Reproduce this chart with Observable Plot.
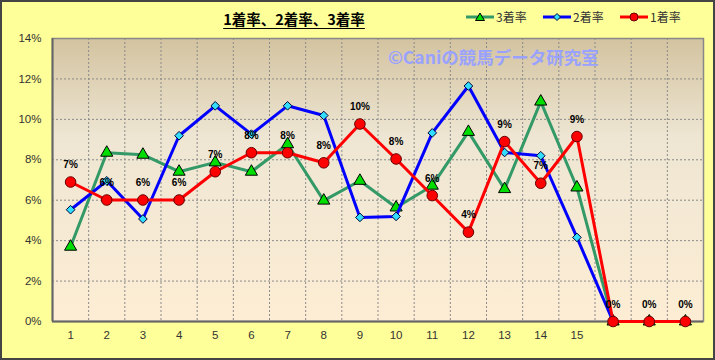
<!DOCTYPE html>
<html>
<head>
<meta charset="utf-8">
<script src="https://cdn.jsdelivr.net/npm/d3@7"></script>
<script src="https://cdn.jsdelivr.net/npm/@observablehq/plot@0.6"></script>
<style>
  html, body { margin: 0; padding: 0; background: #ffff99; }
  #chart { position: relative; width: 715px; height: 360px; background: #ffff99; overflow: hidden; }
  #chart svg { display: block; }
  .ov { position: absolute; white-space: nowrap; }
  #title { left: 294px; top: 9px; transform: translateX(-50%); font: bold 14.5px "Noto Sans CJK JP", sans-serif; text-decoration: underline; text-underline-offset: 3px; color: #000; line-height: 20px; }
  .leg { top: 9px; font: 12px "Noto Sans CJK JP", sans-serif; color: #333; line-height: 16px; display: flex; align-items: center; }
  .leg svg { display: inline-block; margin-right: 2px; }
  #wm { left: 388px; top: 46px; font: bold 17.5px "Noto Sans CJK JP", sans-serif; color: #9aa2ff; line-height: 22px; }
  #border { position: absolute; left: 0; top: 0; width: 715px; height: 360px; box-sizing: border-box; border: 2px solid #444; pointer-events: none; }
</style>
</head>
<body>
<div id="chart"></div>
<script>
// ---- data ----
const categories = ["1","2","3","4","5","6","7","8","9","10","11","12","13","14","15","16","17","18"];
const tickLabels = ["1","2","3","4","5","6","7","8","9","10","11","12","13","14","15"];
const yTicks = [0, 2, 4, 6, 8, 10, 12, 14];
const seriesNames = ["3着率", "2着率", "1着率"];
const rate1 = [6.90, 6.01, 6.01, 6.01, 7.41, 8.35, 8.35, 7.85, 9.77, 8.04, 6.23, 4.42, 8.90, 6.84, 9.15, 0, 0, 0];
const rate2 = [5.53, 6.96, 5.07, 9.19, 10.67, 9.27, 10.67, 10.19, 5.15, 5.20, 9.33, 11.65, 8.36, 8.20, 4.16, 0, 0, 0];
const rate3 = [3.70, 8.35, 8.25, 7.41, 7.87, 7.41, 8.77, 5.98, 6.96, 5.64, 6.72, 9.38, 6.55, 10.88, 6.63, 0, 0, 0];

const toRows = (vals) => vals.map((v, i) => ({x: i + 1, cat: categories[i], v}));
const r1 = toRows(rate1), r2 = toRows(rate2), r3 = toRows(rate3);
const vGrid = categories.slice(1).map((c, i) => i + 1.5);
const hGrid = yTicks.filter(t => t > 0 && t < 14);

const green = "#339966", blue = "#0000ff", red = "#ff0000";

const svg = Plot.plot({
  width: 715,
  height: 360,
  marginLeft: 52,
  marginRight: 12,
  marginTop: 38,
  marginBottom: 39,
  style: {background: "transparent", fontFamily: "'Liberation Sans', Arial, sans-serif", fontSize: "11.5px", color: "#333"},
  x: {type: "linear", domain: [0.5, categories.length + 0.5], ticks: tickLabels.map((_, i) => i + 1), tickFormat: d => tickLabels[d - 1], tickSize: 0, tickPadding: 9, label: null},
  y: {domain: [0, 14], ticks: yTicks, tickFormat: d => d + "%", tickSize: 0, tickPadding: 11, label: null},
  marks: [
    Plot.frame({fill: "url(#plotbg)", stroke: "none"}),
    Plot.ruleX(vGrid, {stroke: "#8a8a8a", strokeWidth: 1, strokeDasharray: "2,2"}),
    Plot.ruleY(hGrid, {stroke: "#8a8a8a", strokeWidth: 1, strokeDasharray: "2,2"}),
    Plot.frame({stroke: "#888", strokeWidth: 1.5}),
    Plot.ruleY([0], {stroke: "#666", strokeWidth: 2}),
    Plot.ruleX([0.5], {stroke: "#666", strokeWidth: 2}),
    // 3着率
    Plot.line(r3, {x: "x", y: "v", stroke: green, strokeWidth: 3}),
    Plot.dot(r3, {x: "x", y: "v", symbol: "triangle", r: 4.5, fill: "#00dd00", stroke: "#000", strokeWidth: 1}),
    // 2着率
    Plot.line(r2, {x: "x", y: "v", stroke: blue, strokeWidth: 3}),
    Plot.dot(r2, {x: "x", y: "v", symbol: "diamond2", r: 3.9, fill: "#33ddff", stroke: "#003", strokeWidth: 1}),
    // 1着率
    Plot.line(r1, {x: "x", y: "v", stroke: red, strokeWidth: 3}),
    Plot.dot(r1, {x: "x", y: "v", r: 5.3, fill: red, stroke: "#600", strokeWidth: 1}),
    Plot.text(r1, {x: "x", y: "v", text: d => Math.round(d.v) + "%", dy: -17, fill: "#000", fontWeight: "bold", fontSize: 10, fontFamily: "'Liberation Sans', Arial, sans-serif"})
  ]
});

// gradient background of plot area
const ns = "http://www.w3.org/2000/svg";
const defs = document.createElementNS(ns, "defs");
defs.innerHTML = `<linearGradient id="plotbg" x1="0" y1="0" x2="0" y2="1">
  <stop offset="0" stop-color="#d3c3a0"/>
  <stop offset="0.35" stop-color="#eee6d3"/>
  <stop offset="1" stop-color="#fdedd4"/>
</linearGradient>`;
svg.insertBefore(defs, svg.firstChild);

const chart = document.getElementById("chart");
chart.appendChild(svg);

// title
const title = document.createElement("div");
title.className = "ov"; title.id = "title";
title.textContent = "1着率、2着率、3着率";
chart.appendChild(title);

// legend
const legendSpecs = [
  {name: seriesNames[0], left: 466, color: green, marker: `<path d="M14,2 L18.5,9.5 L9.5,9.5 Z" fill="#00dd00" stroke="#000" stroke-width="1"/>`},
  {name: seriesNames[1], left: 543, color: blue, marker: `<path d="M14,2.5 L17.5,6 L14,9.5 L10.5,6 Z" fill="#33ddff" stroke="#003" stroke-width="1"/>`},
  {name: seriesNames[2], left: 620, color: red, marker: `<circle cx="14" cy="6" r="4" fill="#ff0000" stroke="#600" stroke-width="1"/>`}
];
for (const s of legendSpecs) {
  const d = document.createElement("div");
  d.className = "ov leg";
  d.style.left = s.left + "px";
  d.innerHTML = `<svg width="28" height="12"><line x1="0" y1="6" x2="28" y2="6" stroke="${s.color}" stroke-width="3"/>${s.marker}</svg><span>${s.name}</span>`;
  chart.appendChild(d);
}

// watermark
const wm = document.createElement("div");
wm.className = "ov"; wm.id = "wm";
wm.textContent = "©Caniの競馬データ研究室";
chart.appendChild(wm);

const border = document.createElement("div");
border.id = "border";
chart.appendChild(border);
</script>
</body>
</html>
